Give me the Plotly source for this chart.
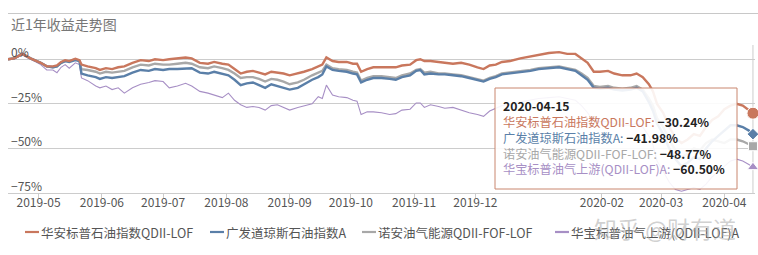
import plotly.graph_objects as go

dates = [
    "2019-04-16", "2019-04-19", "2019-04-23", "2019-04-27", "2019-05-02", "2019-05-05",
    "2019-05-08", "2019-05-10", "2019-05-12", "2019-05-14", "2019-05-16", "2019-05-19",
    "2019-05-21", "2019-05-22", "2019-05-25", "2019-05-29", "2019-05-31", "2019-06-03",
    "2019-06-06", "2019-06-09", "2019-06-12", "2019-06-16", "2019-06-20", "2019-06-24",
    "2019-06-27", "2019-07-01", "2019-07-04", "2019-07-08", "2019-07-12", "2019-07-15",
    "2019-07-19", "2019-07-23", "2019-07-26", "2019-07-30", "2019-08-02", "2019-08-05",
    "2019-08-08", "2019-08-11", "2019-08-14", "2019-08-17", "2019-08-20", "2019-08-23",
    "2019-08-26", "2019-08-29", "2019-09-01", "2019-09-05", "2019-09-08", "2019-09-12",
    "2019-09-15", "2019-09-17", "2019-09-19", "2019-09-22", "2019-09-25", "2019-09-29",
    "2019-10-02", "2019-10-04", "2019-10-06", "2019-10-09", "2019-10-12", "2019-10-16",
    "2019-10-20", "2019-10-23", "2019-10-26", "2019-10-30", "2019-11-02", "2019-11-04",
    "2019-11-06", "2019-11-09", "2019-11-13", "2019-11-16", "2019-11-20", "2019-11-24",
    "2019-11-28", "2019-12-02", "2019-12-05", "2019-12-08", "2019-12-11", "2019-12-14",
    "2019-12-18", "2019-12-23", "2019-12-28", "2020-01-01", "2020-01-06", "2020-01-11",
    "2020-01-15", "2020-01-19", "2020-01-22", "2020-01-25", "2020-01-28", "2020-01-31",
    "2020-02-04", "2020-02-07", "2020-02-11", "2020-02-15", "2020-02-18", "2020-02-21",
    "2020-02-24", "2020-02-26", "2020-02-28", "2020-03-02", "2020-03-05", "2020-03-08",
    "2020-03-11", "2020-03-14", "2020-03-17", "2020-03-20", "2020-03-23", "2020-03-26",
    "2020-03-29", "2020-04-01", "2020-04-04", "2020-04-07", "2020-04-10", "2020-04-13",
    "2020-04-15",
]

huaan = [
    0, 0.5, 3, 0.5, -2, -4, -4, -3.5, -1.5, -0.5, -1, 0.3, -0.5, -3, -4, -5, -6, -5,
    -5.5, -4.5, -4, -2, -0.5, -1, 0, -0.5, 0, 0.5, 1, 0.5, -2, -2.5, -1.5, -2.5, -3,
    -5.5, -8, -7, -6.5, -7.5, -8.5, -7, -7.5, -8, -9, -8, -7, -5.5, -4, -3, 1, -1,
    -1.5, -1.5, -2.5, -2.5, -7, -5.5, -4.5, -4.5, -4.5, -4.5, -3.5, -3, -0.5, 0, -1,
    -1, -1.5, -2, -2.5, -2, -3, -4.5, -5.5, -3.5, -3, -1.5, -1, 0.5, 1.5, 2.5, 3.5, 4,
    3, 3, 0.5, -2, -7, -7, -6.5, -8, -9, -9, -8, -10, -14, -18, -25, -30, -38, -44,
    -47, -45, -42, -43, -38, -34, -32, -28, -26, -25, -26, -28.5, -30.24,
]

guangfa = [
    0, 0.5, 3, 0.5, -2, -4, -4.5, -4, -2, -1, -1.5, -0.5, -1, -8, -9, -10, -11, -10,
    -10.5, -10, -9.5, -7.5, -6, -6.5, -5.5, -6, -5.5, -5.5, -5, -5, -7.5, -8, -7, -8,
    -9, -11.5, -14.5, -13.5, -13, -14.5, -16, -14, -15, -16, -17, -16, -14, -11.5, -10,
    -8.5, -4, -6, -6.5, -7, -8, -8.5, -13, -11.5, -10.5, -10.5, -11, -11.5, -10, -9,
    -6.5, -6, -8.5, -8, -8.5, -8.5, -9, -9.5, -10.5, -11.5, -12.5, -11, -10, -8.5, -8,
    -7.5, -6.5, -5.5, -5, -4.5, -5.5, -6.5, -9, -11.5, -16, -16.5, -16, -17, -17.5,
    -17, -16, -18, -24, -29, -36, -42, -50, -56, -60, -58, -55, -56, -50, -46, -43,
    -40, -37, -37, -38, -40, -41.98,
]

nuoan = [
    0, 0.5, 3, 0.5, -2, -4, -4.5, -4, -2, -1, -1, 0, -1, -5.5, -6, -7, -8, -7, -7.5,
    -7, -6.5, -4.5, -3, -3.5, -2.5, -3, -3, -2.5, -2, -2.5, -4.5, -5, -4, -5, -6, -8,
    -10.5, -10, -10, -11, -12.5, -11, -11.5, -12.5, -14, -13, -11.5, -9, -7.5, -6.5,
    -3, -5, -5.5, -6, -7, -7.5, -12, -10.5, -9.5, -9.5, -10, -10.5, -9, -8, -6, -5.5,
    -7.5, -7, -8, -8, -8.5, -9, -10, -11, -12, -10.5, -9.5, -8, -7.5, -7, -6, -5,
    -4.5, -4, -5, -6, -8, -10.5, -15, -15.5, -15, -16, -16.5, -16, -15, -17, -22, -26,
    -33, -38, -45, -51, -55, -53, -50, -51, -47, -45, -46, -47, -45, -45, -46, -47.5,
    -48.77,
]

huabao = [
    0, 0, 2.5, 0, -3, -6, -6, -7.5, -4.5, -3, -5, -2, -3, -10.5, -12, -15, -16, -15,
    -17, -16, -19, -16, -14, -13, -12, -12.5, -16, -15, -13.5, -15, -18, -19, -20,
    -21.5, -19, -23, -25.5, -27, -26.5, -27, -28.5, -26, -25.5, -27, -28.5, -27, -26,
    -25, -21, -22, -14.5, -20, -21, -21.5, -23, -23.5, -31, -29.5, -29.5, -30, -31,
    -30.5, -28.5, -28, -24.5, -24.5, -27, -25.5, -26.5, -27.5, -27, -28.5, -30, -31,
    -32, -29, -27.5, -26, -25, -24, -23, -22, -21.5, -21, -22, -23, -26, -30, -35, -35,
    -35, -36, -37, -37, -36, -38, -43, -48, -57, -63, -69, -73, -74, -73, -72, -73,
    -70, -66, -63, -60, -57, -56, -57, -59, -60.5,
]

series_names = [
    "华安标普石油指数QDII-LOF",
    "广发道琼斯石油指数A",
    "诺安油气能源QDII-FOF-LOF",
    "华宝标普油气上游(QDII-LOF)A",
]
series_values = [huaan, guangfa, nuoan, huabao]
colors = ["#c9775d", "#5a7fa8", "#a8a8a8", "#a78fc5"]
widths = [2.4, 2.4, 2.4, 1.1]
end_symbols = ["circle", "diamond", "square", "triangle-up"]
end_sizes = [12, 9, 9, 10]

tick_vals = ["2019-05-01", "2019-06-01", "2019-07-01", "2019-08-01", "2019-09-01",
             "2019-10-01", "2019-11-01", "2019-12-01", "2020-02-01", "2020-03-01",
             "2020-04-01"]
tick_text = ["2019-05", "2019-06", "2019-07", "2019-08", "2019-09", "2019-10",
             "2019-11", "2019-12", "2020-02", "2020-03", "2020-04"]
y_ticks = [0, -25, -50, -75]
y_tick_text = ["0%", "−25%", "−50%", "−75%"]

title_text = "近1年收益走势图"
tooltip_date = "2020-04-15"
watermark = "知乎 @财有道"

FONT = "Noto Sans CJK SC, Microsoft YaHei, sans-serif"

# layout geometry (pixels)
W, H = 758, 255
ML, MR, MT, MB = 8, 3, 45, 62
PW, PH = W - ML - MR, H - MT - MB


def px_x(px):
    return (px - ML) / PW


def px_y(py):
    return (H - MB - py) / PH


fig = go.Figure()
order = [3, 2, 1, 0]
for i in order:
    fig.add_trace(go.Scatter(
        x=dates, y=series_values[i], mode="lines", name=series_names[i],
        line=dict(color=colors[i], width=widths[i]), showlegend=False,
        hoverinfo="skip",
    ))
for i in range(4):
    fig.add_trace(go.Scatter(
        x=[dates[-1]], y=[series_values[i][-1]], mode="markers", showlegend=False,
        marker=dict(symbol=end_symbols[i], size=end_sizes[i], color=colors[i],
                    line=dict(color="white", width=1)),
        cliponaxis=False, hoverinfo="skip",
    ))

# y tick labels drawn inside the plot, above each gridline
for v, t in zip(y_ticks, y_tick_text):
    fig.add_annotation(xref="paper", yref="y", x=px_x(9), y=v, xanchor="left",
                       yanchor="bottom", text=t, showarrow=False, yshift=-3,
                       font=dict(family=FONT, size=12, color="#555555"))

# tooltip box + text
fig.add_shape(type="rect", xref="paper", yref="paper",
              x0=px_x(495), x1=px_x(737), y0=px_y(88), y1=px_y(189),
              fillcolor="rgba(255,255,255,0.9)", line=dict(color="#c9866f", width=1),
              layer="above")
lines = [f"<b>{tooltip_date}</b>"]
for name, vals, c in zip(series_names, series_values, colors):
    v = f"{vals[-1]:.2f}%".replace("-", "−")
    lines.append(f"<span style='color:{c}'>{name}: </span><b>{v}</b>")
fig.add_annotation(
    xref="paper", yref="paper", x=px_x(502), y=px_y(137.5), xanchor="left", yanchor="middle",
    text="<br>".join(lines), align="left", showarrow=False, borderpad=0,
    font=dict(family=FONT, size=12.2, color="#222"),
)

# vertical axis pointer line
fig.add_shape(type="line", xref="x", yref="paper", x0=dates[-1], x1=dates[-1], y0=0, y1=1,
              line=dict(color="#cccccc", width=1), layer="below")

# title & top rule
fig.add_annotation(xref="paper", yref="paper", x=px_x(9), y=px_y(24),
                   xanchor="left", yanchor="middle", text=title_text, showarrow=False,
                   font=dict(family=FONT, size=14, color="#777777"))
fig.add_shape(type="line", xref="paper", yref="paper", x0=px_x(8), x1=px_x(758),
              y0=px_y(13.5), y1=px_y(13.5), line=dict(color="#c8c8c8", width=1))

# manual legend (one row)
leg_line_x = [25, 210, 362, 555]
leg_y = 232
for i in range(4):
    x0 = leg_line_x[i]
    fig.add_shape(type="line", xref="paper", yref="paper", x0=px_x(x0), x1=px_x(x0 + 14),
                  y0=px_y(leg_y), y1=px_y(leg_y), line=dict(color=colors[i], width=2.2))
    fig.add_annotation(xref="paper", yref="paper", x=px_x(x0 + 14), y=px_y(leg_y),
                       xanchor="left", yanchor="middle", text=series_names[i],
                       showarrow=False,
                       font=dict(family=FONT, size=12.5, color="#555555"))

# watermark
fig.add_annotation(xref="paper", yref="paper", x=px_x(738), y=px_y(228),
                   xanchor="right", yanchor="middle", text=watermark, showarrow=False,
                   font=dict(family=FONT, size=23, color="rgba(170,170,170,0.55)"))

fig.update_layout(
    width=W, height=H,
    margin=dict(l=ML, r=MR, t=MT, b=MB),
    paper_bgcolor="white", plot_bgcolor="white",
    font=dict(family=FONT, size=12, color="#555555"),
    showlegend=False,
    xaxis=dict(type="date", range=["2019-04-16", "2020-04-16"], showgrid=False,
               showline=True, linecolor="#cccccc", linewidth=1,
               ticks="outside", ticklen=4, tickcolor="#cccccc",
               tickvals=tick_vals, ticktext=tick_text, ticklabelstandoff=-5,
               tickfont=dict(family=FONT, size=12, color="#555555"), zeroline=False),
    yaxis=dict(range=[-75, 8], tickvals=y_ticks, showticklabels=False,
               showgrid=True, gridcolor="#cccccc", gridwidth=1, zeroline=False,
               showline=False),
    hovermode=False,
)

fig.write_html("out.html")
